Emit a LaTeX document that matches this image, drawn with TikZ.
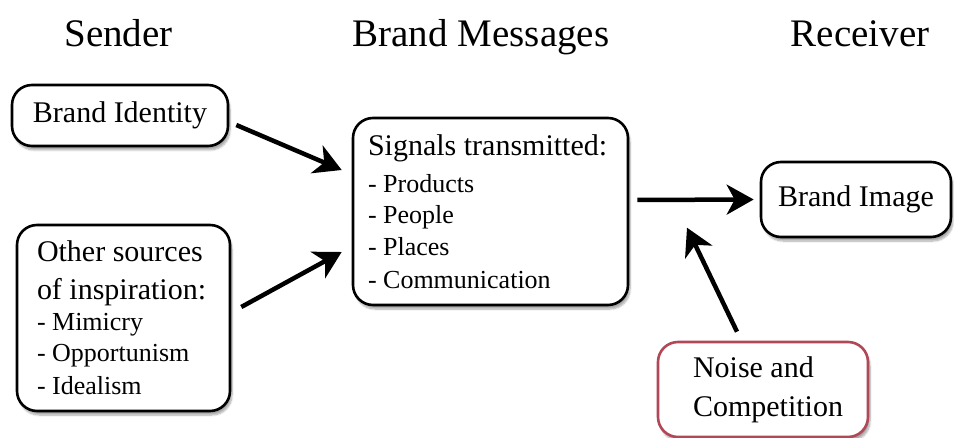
\documentclass[tikz,border=0pt]{standalone}
\usepackage{fontspec}
\setmainfont{Liberation Serif}
\usetikzlibrary{arrows.meta,shadows.blur,calc}
\newcommand{\natsp}{\spaceskip=0pt\xspaceskip=0pt\hyphenpenalty=10000\relax}
\begin{document}
\begin{tikzpicture}[x=1pt,y=-1pt,
  box/.style={draw=black, line width=2.6pt, rounded corners=20pt, fill=white,
    blur shadow={shadow blur steps=8, shadow xshift=2pt, shadow yshift=-4pt, shadow opacity=35},
    inner sep=0pt},
  title/.style={font=\fontsize{39}{44}\selectfont, anchor=base},
  main/.style={font=\fontsize{30}{33}\selectfont},
  arr/.style={line width=4.5pt, -{Stealth[length=27pt,width=30pt,inset=8pt]}},
]
\useasboundingbox (0,0) rectangle (954,438);
\node[title] (tsender) at (118.5,47) {Sender};
\node[title] (tmsg) at (481,47) {Brand Messages};
\node[title] (trecv) at (860,47) {Receiver};

\node[box, main, minimum width=216pt, minimum height=61pt] (bi) at (120,115.5) {Brand Identity};

\node[box, main, minimum width=213pt, minimum height=186pt, text width=173pt, align=left, inner xsep=20pt] (os) at (123.5,318)
  {\natsp Other sources\\[5pt]of inspiration:\\
   \fontsize{26}{31}\selectfont - Mimicry\\- Opportunism\\- Idealism};

\node[box, main, minimum width=275pt, minimum height=187pt, text width=245pt, align=left, inner xsep=15pt] (sig) at (490.5,211.5)
  {\natsp Signals transmitted:\\[5.5pt]
   \fontsize{26}{31.5}\selectfont - Products\\- People\\- Places\\- Communication};

\node[box, main, minimum width=190pt, minimum height=75pt] (bimg) at (856,199.5) {Brand Image};

\node[box, main, draw={rgb,255:red,176;green,72;blue,88}, minimum width=210pt, minimum height=95pt, text width=166pt, align=left, inner xsep=22pt] (noise) at (763,389.5)
  {\natsp \hspace*{13pt}Noise and\\[6pt]\hspace*{13pt}Competition};

\draw[arr] ($(bi.east)+(7,9.5)$) -- ($(sig.west)+(-10,-41.5)$);
\draw[arr] ($(os.east)+(10,-11)$) -- ($(sig.west)+(-10,40.5)$);
\draw[arr] ($(sig.east)+(8,-11.5)$) -- ($(bimg.west)+(-6,0)$);
\draw[arr] ($(noise.north)+(-26,-9)$) -- ($(noise.north)+(-76,-113)$);
\end{tikzpicture}
\end{document}
